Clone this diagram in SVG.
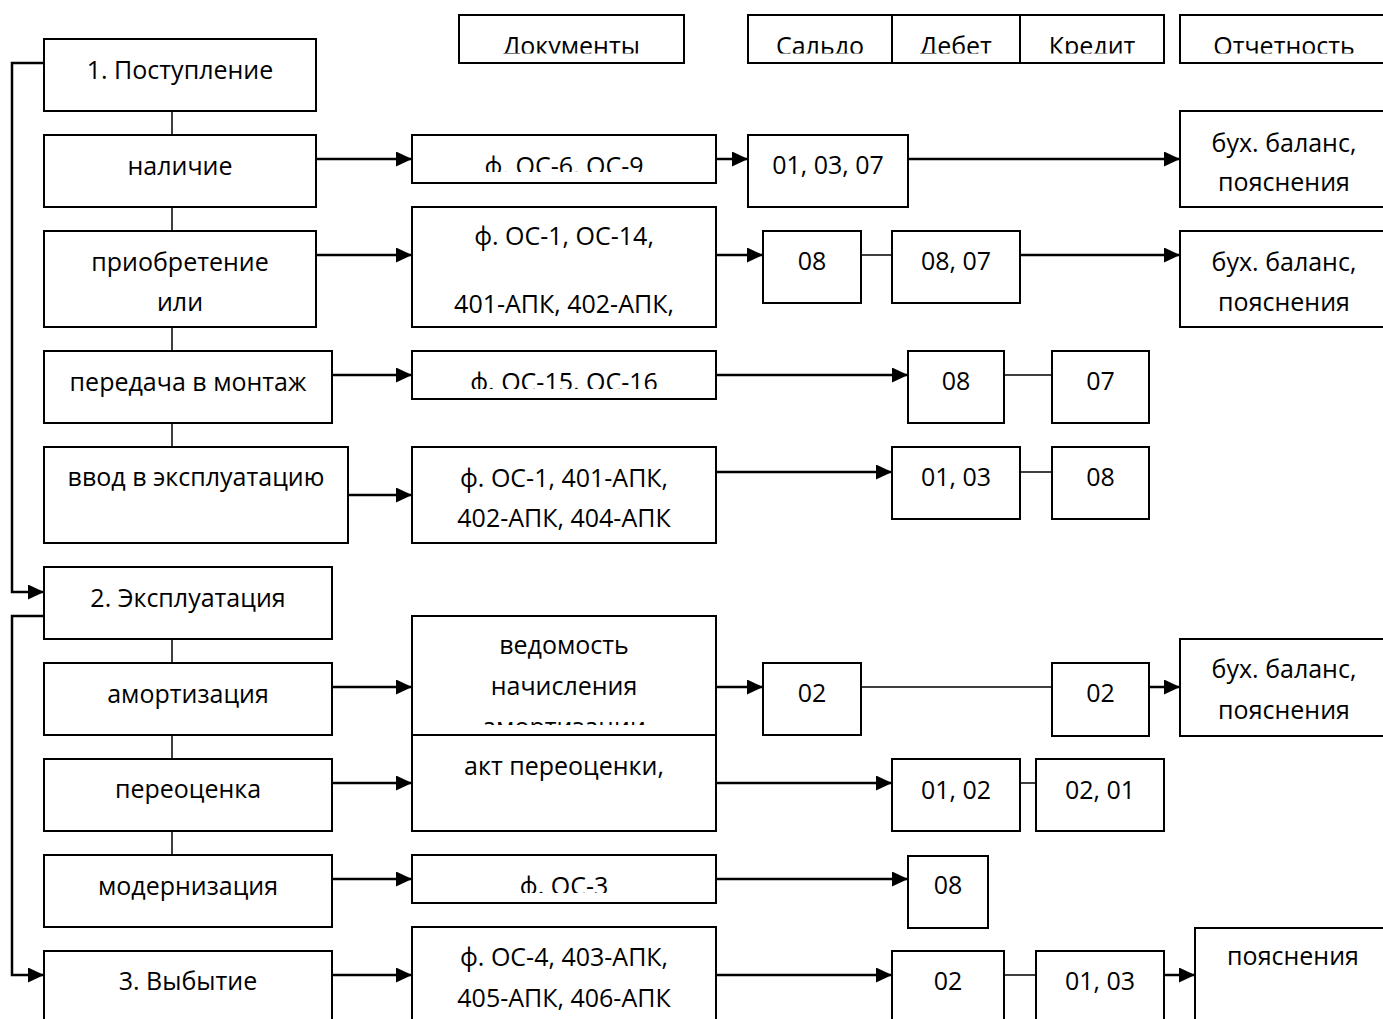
<svg xmlns="http://www.w3.org/2000/svg" width="1383" height="1019" viewBox="0 0 1383 1019">
<style>
.b{fill:#fff;stroke:#000;stroke-width:2}
.t{font-family:"Open Sans","Noto Sans",sans-serif;font-size:25px;text-anchor:middle;fill:#000}
.a{stroke:#000;stroke-width:2.5;fill:none;marker-end:url(#ah)}
.l{stroke:#000;stroke-width:1.5;fill:none}
</style>
<defs>
<marker id="ah" markerUnits="userSpaceOnUse" markerWidth="16" markerHeight="15" refX="16" refY="7.5" orient="auto"><path d="M0,0 L16,7.5 L0,15 z" fill="#000"/></marker>
<clipPath id="c-h"><rect x="0" y="0" width="1383" height="53.5"/></clipPath>
<clipPath id="c-d1"><rect x="412" y="135" width="304" height="37"/></clipPath>
<clipPath id="c-d3"><rect x="412" y="351" width="304" height="38"/></clipPath>
<clipPath id="c-d5"><rect x="412" y="616" width="304" height="109"/></clipPath>
<clipPath id="c-d7"><rect x="412" y="855" width="304" height="38"/></clipPath>
</defs>
<rect width="1383" height="1019" fill="#fff"/>

<g id="connectors">
<path class="a" d="M316,159 H412"/>
<path class="a" d="M716,159 H748"/>
<path class="a" d="M908,159 H1180"/>
<path class="a" d="M316,255 H412"/>
<path class="a" d="M716,255 H763"/>
<path class="a" d="M1020,255 H1180"/>
<path class="a" d="M332,375 H412"/>
<path class="a" d="M716,375 H908"/>
<path class="a" d="M348,495 H412"/>
<path class="a" d="M716,472 H892"/>
<path class="a" d="M332,687 H412"/>
<path class="a" d="M716,687 H763"/>
<path class="a" d="M1149,687 H1180"/>
<path class="a" d="M332,783 H412"/>
<path class="a" d="M716,783 H892"/>
<path class="a" d="M332,879 H412"/>
<path class="a" d="M716,879 H908"/>
<path class="a" d="M332,975 H412"/>
<path class="a" d="M716,975 H892"/>
<path class="a" d="M1164,975 H1195"/>
<path class="a" d="M44,63 H12 V592 H44"/>
<path class="a" d="M44,616 H12 V975 H44"/>
<path class="l" d="M861,255 H892"/>
<path class="l" d="M1004,375 H1052"/>
<path class="l" d="M1020,472 H1052"/>
<path class="l" d="M861,687 H1052"/>
<path class="l" d="M1020,783 H1036"/>
<path class="l" d="M1004,975 H1036"/>
<path class="l" d="M172,111 V135 M172,207 V231 M172,327 V351 M172,423 V447 M172,639 V663 M172,735 V759 M172,831 V855"/>
</g>

<g id="h1"><rect class="b" x="459" y="15" width="225" height="48"/><text class="t" x="571.5" y="55" clip-path="url(#c-h)">Документы</text></g>
<g id="h2"><rect class="b" x="748" y="15" width="144" height="48"/><text class="t" x="820" y="55" clip-path="url(#c-h)">Сальдо</text></g>
<g id="h3"><rect class="b" x="892" y="15" width="128" height="48"/><text class="t" x="956" y="55" clip-path="url(#c-h)">Дебет</text></g>
<g id="h4"><rect class="b" x="1020" y="15" width="144" height="48"/><text class="t" x="1092" y="55" clip-path="url(#c-h)">Кредит</text></g>
<g id="h5"><rect class="b" x="1180" y="15" width="210" height="48"/><text class="t" x="1284" y="55" clip-path="url(#c-h)">Отчетность</text></g>

<g id="n1"><rect class="b" x="44" y="39" width="272" height="72"/><text class="t" x="180" y="79">1. Поступление</text></g>
<g id="n2"><rect class="b" x="44" y="135" width="272" height="72"/><text class="t" x="180" y="175">наличие</text></g>
<g id="n3"><rect class="b" x="44" y="231" width="272" height="96"/><text class="t" x="180" y="271">приобретение</text><text class="t" x="180" y="311">или</text></g>
<g id="n4"><rect class="b" x="44" y="351" width="288" height="72"/><text class="t" x="188" y="391">передача в монтаж</text></g>
<g id="n5"><rect class="b" x="44" y="447" width="304" height="96"/><text class="t" x="196" y="486">ввод в эксплуатацию</text></g>
<g id="n6"><rect class="b" x="44" y="567" width="288" height="72"/><text class="t" x="188" y="607">2. Эксплуатация</text></g>
<g id="n7"><rect class="b" x="44" y="663" width="288" height="72"/><text class="t" x="188" y="703">амортизация</text></g>
<g id="n8"><rect class="b" x="44" y="759" width="288" height="72"/><text class="t" x="188" y="798">переоценка</text></g>
<g id="n9"><rect class="b" x="44" y="855" width="288" height="72"/><text class="t" x="188" y="895">модернизация</text></g>
<g id="n10"><rect class="b" x="44" y="951" width="288" height="90"/><text class="t" x="188" y="990">3. Выбытие</text></g>

<g id="d1"><rect class="b" x="412" y="135" width="304" height="48"/><text class="t" x="564" y="175" clip-path="url(#c-d1)">ф. ОС-6, ОС-9</text></g>
<g id="d2"><rect class="b" x="412" y="207" width="304" height="120"/><text class="t" x="564" y="245">ф. ОС-1, ОС-14,</text><text class="t" x="564" y="313">401-АПК, 402-АПК,</text></g>
<g id="d3"><rect class="b" x="412" y="351" width="304" height="48"/><text class="t" x="564" y="391" clip-path="url(#c-d3)">ф. ОС-15, ОС-16</text></g>
<g id="d4"><rect class="b" x="412" y="447" width="304" height="96"/><text class="t" x="564" y="487">ф. ОС-1, 401-АПК,</text><text class="t" x="564" y="527">402-АПК, 404-АПК</text></g>
<g id="d5"><rect class="b" x="412" y="616" width="304" height="119"/><g clip-path="url(#c-d5)"><text class="t" x="564" y="654">ведомость</text><text class="t" x="564" y="695">начисления</text><text class="t" x="564" y="736">амортизации</text></g></g>
<g id="d6"><rect class="b" x="412" y="735" width="304" height="96"/><text class="t" x="564" y="775">акт переоценки,</text></g>
<g id="d7"><rect class="b" x="412" y="855" width="304" height="48"/><text class="t" x="564" y="895" clip-path="url(#c-d7)">ф. ОС-3</text></g>
<g id="d8"><rect class="b" x="412" y="927" width="304" height="110"/><text class="t" x="564" y="966">ф. ОС-4, 403-АПК,</text><text class="t" x="564" y="1007">405-АПК, 406-АПК</text></g>

<g id="a1"><rect class="b" x="748" y="135" width="160" height="72"/><text class="t" x="828" y="174">01, 03, 07</text></g>
<g id="a2"><rect class="b" x="763" y="231" width="98" height="72"/><text class="t" x="812" y="270">08</text></g>
<g id="a3"><rect class="b" x="892" y="231" width="128" height="72"/><text class="t" x="956" y="270">08, 07</text></g>
<g id="a4"><rect class="b" x="908" y="351" width="96" height="72"/><text class="t" x="956" y="390">08</text></g>
<g id="a5"><rect class="b" x="1052" y="351" width="97" height="72"/><text class="t" x="1100.5" y="390">07</text></g>
<g id="a6"><rect class="b" x="892" y="447" width="128" height="72"/><text class="t" x="956" y="486">01, 03</text></g>
<g id="a7"><rect class="b" x="1052" y="447" width="97" height="72"/><text class="t" x="1100.5" y="486">08</text></g>
<g id="a8"><rect class="b" x="763" y="663" width="98" height="72"/><text class="t" x="812" y="702">02</text></g>
<g id="a9"><rect class="b" x="1052" y="663" width="97" height="73"/><text class="t" x="1100.5" y="702">02</text></g>
<g id="a10"><rect class="b" x="892" y="759" width="128" height="72"/><text class="t" x="956" y="799">01, 02</text></g>
<g id="a11"><rect class="b" x="1036" y="759" width="128" height="72"/><text class="t" x="1100" y="799">02, 01</text></g>
<g id="a12"><rect class="b" x="908" y="856" width="80" height="72"/><text class="t" x="948" y="894">08</text></g>
<g id="a13"><rect class="b" x="892" y="951" width="112" height="90"/><text class="t" x="948" y="990">02</text></g>
<g id="a14"><rect class="b" x="1036" y="951" width="128" height="90"/><text class="t" x="1100" y="990">01, 03</text></g>

<g id="r1"><rect class="b" x="1180" y="111" width="210" height="96"/><text class="t" x="1284" y="152">бух. баланс,</text><text class="t" x="1284" y="191">пояснения</text></g>
<g id="r2"><rect class="b" x="1180" y="231" width="210" height="96"/><text class="t" x="1284" y="271">бух. баланс,</text><text class="t" x="1284" y="311">пояснения</text></g>
<g id="r3"><rect class="b" x="1180" y="639" width="210" height="97"/><text class="t" x="1284" y="678">бух. баланс,</text><text class="t" x="1284" y="719">пояснения</text></g>
<g id="r4"><rect class="b" x="1195" y="928" width="200" height="110"/><text class="t" x="1293" y="965">пояснения</text></g>
</svg>
